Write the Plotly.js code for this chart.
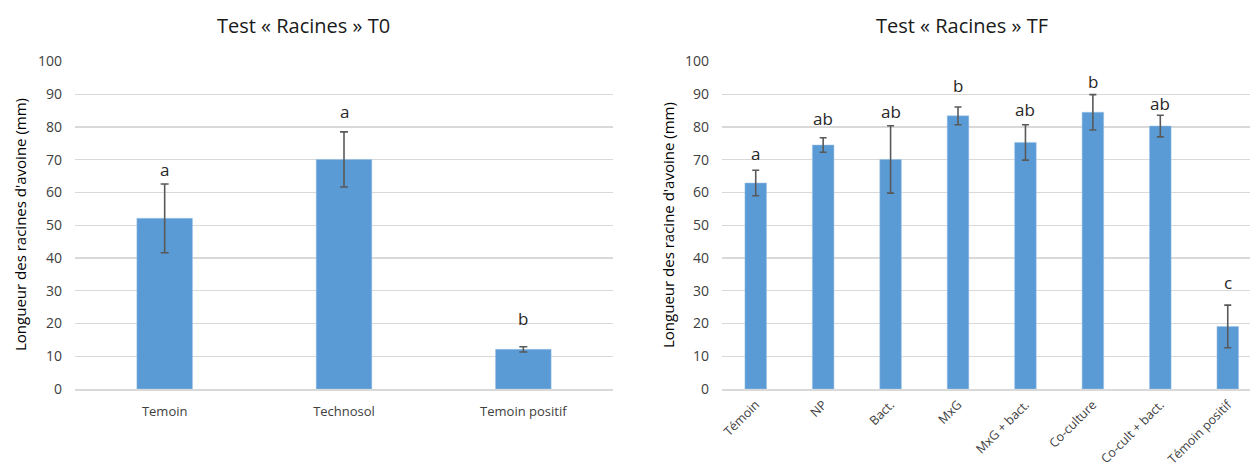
<!DOCTYPE html>
<html>
<head>
<meta charset="utf-8">
<script src="https://cdn.plot.ly/plotly-3.0.1.min.js"></script>
<style>html,body{margin:0;padding:0;background:#fff;}#chart{width:1250px;height:473px;}</style>
</head>
<body>
<div id="chart"></div>
<script>
// Left chart (T0)
var catsT0 = ["Temoin", "Technosol", "Temoin positif"];
var valsT0 = [52.1, 70.1, 12.1];
var errT0 = [10.5, 8.4, 0.8];
var lettersT0 = ["a", "a", "b"];
var letterYT0 = [67, 84.8, 21.5];

// Right chart (TF)
var catsTF = ["Témoin", "NP", "Bact.", "MxG", "MxG + bact.", "Co-culture", "Co-cult + bact.", "Témoin positif"];
var valsTF = [62.9, 74.5, 70.1, 83.4, 75.3, 84.5, 80.3, 19.1];
var errTF = [3.9, 2.2, 10.3, 2.7, 5.4, 5.4, 3.3, 6.5];
var lettersTF = ["a", "ab", "ab", "b", "ab", "b", "ab", "c"];
var letterYTF = [72, 82.6, 84.8, 92.7, 85.4, 93.9, 87.3, 32.6];

var yTicks = [0, 10, 20, 30, 40, 50, 60, 70, 80, 90, 100];

var FONT = "Open Sans, Noto Sans, sans-serif";
var BAR = "#5B9BD5";
var ERR = "#595959";
var GRID = "#d9d9d9";

var traces = [
  {
    type: "bar", x: catsT0, y: valsT0, xaxis: "x", yaxis: "y",
    width: 0.31,
    marker: {color: BAR, line: {color: "#9dc3e6", width: 0.5}},
    error_y: {type: "data", array: errT0, visible: true, color: ERR, thickness: 1.6, width: 4},
    hoverinfo: "x+y"
  },
  {
    type: "bar", x: catsTF, y: valsTF, xaxis: "x2", yaxis: "y2",
    width: 0.32,
    marker: {color: BAR, line: {color: "#9dc3e6", width: 0.5}},
    error_y: {type: "data", array: errTF, visible: true, color: ERR, thickness: 1.6, width: 3.5},
    hoverinfo: "x+y"
  }
];

var annotations = [];
lettersT0.forEach(function (t, i) {
  annotations.push({xref: "x", yref: "y", x: catsT0[i], y: letterYT0[i], text: t, showarrow: false,
    font: {family: FONT, size: 17, color: "#262626"}, yanchor: "middle"});
});
lettersTF.forEach(function (t, i) {
  annotations.push({xref: "x2", yref: "y2", x: catsTF[i], y: letterYTF[i], text: t, showarrow: false,
    font: {family: FONT, size: 17, color: "#262626"}, yanchor: "middle"});
});
annotations.push({xref: "paper", yref: "paper", x: 303 / 1250, y: 1 - 25 / 473, text: "Test « Racines » T0",
  showarrow: false, font: {family: FONT, size: 20, color: "#1a1a1a"}, xanchor: "center", yanchor: "middle"});
annotations.push({xref: "paper", yref: "paper", x: 962 / 1250, y: 1 - 25 / 473, text: "Test « Racines » TF",
  showarrow: false, font: {family: FONT, size: 20, color: "#1a1a1a"}, xanchor: "center", yanchor: "middle"});
annotations.push({xref: "paper", yref: "paper", x: 20 / 1250, y: 1 - 225 / 473, text: "Longueur des racines d'avoine (mm)",
  textangle: -90, showarrow: false, font: {family: FONT, size: 15, color: "#000"}, xanchor: "center", yanchor: "middle"});
annotations.push({xref: "paper", yref: "paper", x: 668 / 1250, y: 1 - 225 / 473, text: "Longueur des racine d'avoine (mm)",
  textangle: -90, showarrow: false, font: {family: FONT, size: 15, color: "#000"}, xanchor: "center", yanchor: "middle"});

var yBase = {
  range: [0, 100], tickvals: yTicks, showgrid: true, gridcolor: GRID, gridwidth: 1.3,
  zeroline: false, showline: false, ticks: "", ticklabelstandoff: 12,
  tickfont: {family: FONT, size: 14, color: "#404040"}, fixedrange: true,
  domain: [(473 - 389) / 473, (473 - 61.5) / 473]
};
var layout = {
  width: 1250, height: 473,
  margin: {l: 0, r: 0, t: 0, b: 0},
  paper_bgcolor: "#fff", plot_bgcolor: "#fff",
  showlegend: false,
  bargap: 0.68,
  xaxis: {domain: [75 / 1250, 613 / 1250], type: "category", range: [-0.5, 2.5], showline: true, linecolor: GRID, linewidth: 1.5,
    ticks: "", tickfont: {family: FONT, size: 13, color: "#404040"}, ticklabelstandoff: 10, anchor: "y", fixedrange: true},
  yaxis: Object.assign({}, yBase, {anchor: "x"}),
  xaxis2: {domain: [722 / 1250, 1], type: "category", range: [-0.5, 7.33], showline: true, linecolor: GRID, linewidth: 1.5,
    ticks: "", tickangle: -45, tickfont: {family: FONT, size: 12.5, color: "#404040"}, ticklabelstandoff: 2, anchor: "y2", fixedrange: true},
  yaxis2: Object.assign({}, yBase, {anchor: "x2"}),
  annotations: annotations
};

Plotly.newPlot("chart", traces, layout, {displayModeBar: false, staticPlot: true});
</script>
</body>
</html>
